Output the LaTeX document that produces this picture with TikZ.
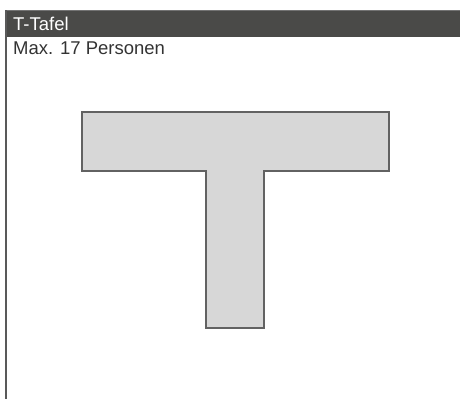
\documentclass[tikz,border=0pt]{standalone}
\usepackage{fontspec}
\setmainfont{Liberation Sans}
\definecolor{bar}{HTML}{4A4A48}
\definecolor{tfill}{HTML}{D7D7D7}
\definecolor{tline}{HTML}{626262}
\begin{document}
\begin{tikzpicture}[x=1pt,y=-1pt,
  lbl/.style={anchor=base west,inner sep=0pt,font=\fontsize{18.5}{22}\selectfont}]
\useasboundingbox (0,0) rectangle (460,399);
\fill[bar] (5,10) rectangle (460,36.5);
\draw[line width=1pt,black!55] (5,10.5) -- (460,10.5);
\draw[line width=2pt,black!65] (6,10) -- (6,399);
\node[lbl,text=white] (title) at (13,30) {T-Tafel};
\node[lbl,text=black!80] (cap) at (13,54.5) {Max. 17 Personen};
\draw[fill=tfill,draw=tline,line width=1.5pt] (82,112) -- (389,112) -- (389,171) -- (264,171) -- (264,328) -- (206,328) -- (206,171) -- (82,171) -- cycle;
\end{tikzpicture}
\end{document}
